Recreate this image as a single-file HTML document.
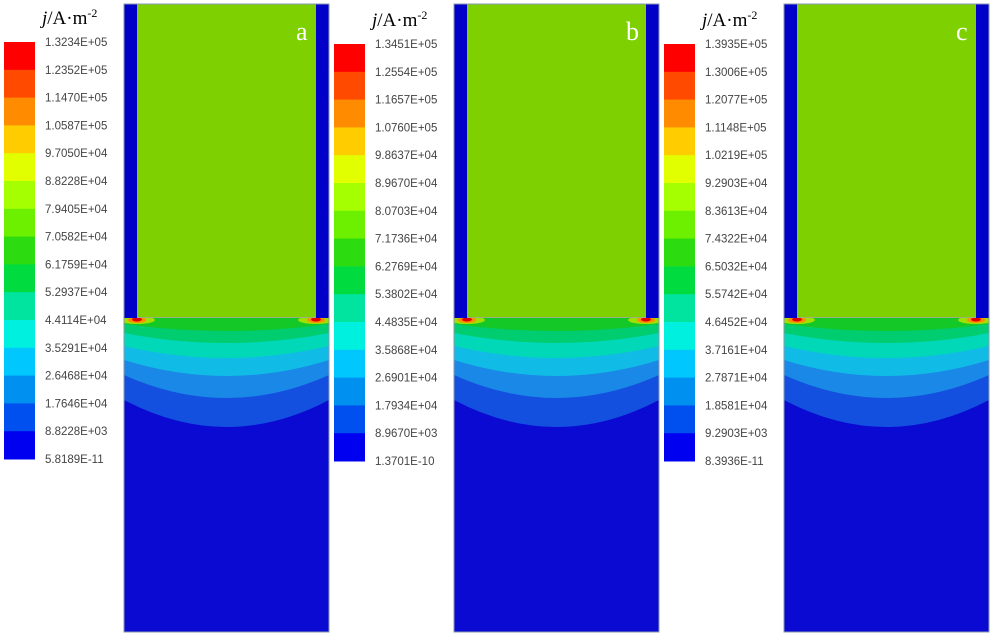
<!DOCTYPE html>
<html><head><meta charset="utf-8"><style>
html,body{margin:0;padding:0;background:#fff;width:993px;height:635px;overflow:hidden}
svg{display:block}
</style></head><body>
<svg id="fig" width="993" height="635" xmlns="http://www.w3.org/2000/svg"></svg>
<script>
// colour levels (top to bottom of colour bar)
const levelColors = ["#ff0000","#ff4a00","#ff8c00","#ffcc00","#e2ff00","#a6ff00","#6cf000","#2cdc10","#00dc40","#00e4a0","#00f0e0","#00c8ff","#0090f0","#0050f0","#0000f0"];
const labelsA = ["1.3234E+05","1.2352E+05","1.1470E+05","1.0587E+05","9.7050E+04","8.8228E+04","7.9405E+04","7.0582E+04","6.1759E+04","5.2937E+04","4.4114E+04","3.5291E+04","2.6468E+04","1.7646E+04","8.8228E+03","5.8189E-11"];
const labelsB = ["1.3451E+05","1.2554E+05","1.1657E+05","1.0760E+05","9.8637E+04","8.9670E+04","8.0703E+04","7.1736E+04","6.2769E+04","5.3802E+04","4.4835E+04","3.5868E+04","2.6901E+04","1.7934E+04","8.9670E+03","1.3701E-10"];
const labelsC = ["1.3935E+05","1.3006E+05","1.2077E+05","1.1148E+05","1.0219E+05","9.2903E+04","8.3613E+04","7.4322E+04","6.5032E+04","5.5742E+04","4.6452E+04","3.7161E+04","2.7871E+04","1.8581E+04","9.2903E+03","8.3936E-11"];
const panelLetters = ["a","b","c"];
// contour band boundaries below electrode: [edge depth, centre depth] in px below interface
const boundaryEdge   = [82, 57, 42, 28, 15, 6];
const boundaryCenter = [109, 80, 58, 40, 25, 13];
const bandFills = ["#1450e0","#1a88e6","#10bce6","#00d8b8","#00cc70","#14c828"];

const NS="http://www.w3.org/2000/svg";
const svg=document.getElementById('fig');
function el(tag,attrs,parent){const e=document.createElementNS(NS,tag);for(const k in attrs)e.setAttribute(k,attrs[k]);(parent||svg).appendChild(e);return e;}
const defs=el('defs',{});

const panels=[{x0:0,bt:42,labels:labelsA,name:'a'},{x0:330,bt:44,labels:labelsB,name:'b'},{x0:660,bt:44,labels:labelsC,name:'c'}];
panels.forEach((p,pi)=>{
  const g=el('g',{});
  
  
  const bh=27.8;
  levelColors.forEach((c,i)=>{
    const r=el('rect',{x:p.x0+4,y:p.bt+i*bh,width:31,height:bh+0.5,fill:c},g);
    
    
  });
  p.labels.forEach((t,i)=>{
    const tx=el('text',{x:p.x0+45,y:p.bt+i*bh+4,'font-family':'Liberation Sans, sans-serif','font-size':'11.5',fill:'#444'},g);
    tx.textContent=t;
    
    
  });
  const title=el('text',{x:p.x0+42,y:p.bt-18,'font-family':'Liberation Serif, serif','font-size':'19',fill:'#000'},g);
  title.innerHTML='<tspan font-style="italic">j</tspan>/A·m<tspan dy="-7" font-size="12">-2</tspan>';
  
  
  const dx=p.x0+124, dw=205, top=4, bot=632, iface=318;
  const cp=el('clipPath',{id:'clip'+pi},defs);
  el('rect',{x:dx,y:top,width:dw,height:bot-top},cp);
  const d=el('g',{'clip-path':'url(#clip'+pi+')'},g);
  
  
  el('rect',{x:dx,y:top,width:dw,height:bot-top,fill:'#0a0ad2'},d);
  for(let i=0;i<boundaryEdge.length;i++){
    const ye=iface+boundaryEdge[i], yc=iface+boundaryCenter[i];
    const cy=2*yc-ye;
    const path=el('path',{d:`M${dx} ${iface} L${dx+dw} ${iface} L${dx+dw} ${ye} Q${dx+dw/2} ${cy} ${dx} ${ye} Z`,fill:bandFills[i]},d);
    
    
  }
  [dx+13,dx+dw-13].forEach(hx=>{
    el('ellipse',{cx:hx,cy:iface+2,rx:18,ry:4,fill:'#9ee000'},d);
    el('ellipse',{cx:hx,cy:iface+2,rx:9,ry:3,fill:'#ff8c00'},d);
    const h=el('ellipse',{cx:hx,cy:iface+1.5,rx:5,ry:2,fill:'#e00000'},d);
    
    
  });
  el('rect',{x:dx,y:top,width:13,height:iface-top,fill:'#0000c8'},d);
  el('rect',{x:dx+dw-13,y:top,width:13,height:iface-top,fill:'#0000c8'},d);
  const elec=el('rect',{x:dx+13,y:top,width:dw-26,height:iface-top,fill:'#7ed000'},d);
  
  
  el('line',{x1:dx+13,y1:iface-0.5,x2:dx+dw-13,y2:iface-0.5,stroke:'#9ab080','stroke-width':1},d);
  el('rect',{x:dx,y:top,width:dw,height:bot-top,fill:'none',stroke:'#8a9ab0','stroke-width':1},g);
  const lt=el('text',{x:dx+dw-33,y:40,'font-family':'Liberation Serif, serif','font-size':'26',fill:'#fff'},g);
  lt.textContent=panelLetters[pi];
  
  
});
</script>
</body></html>
